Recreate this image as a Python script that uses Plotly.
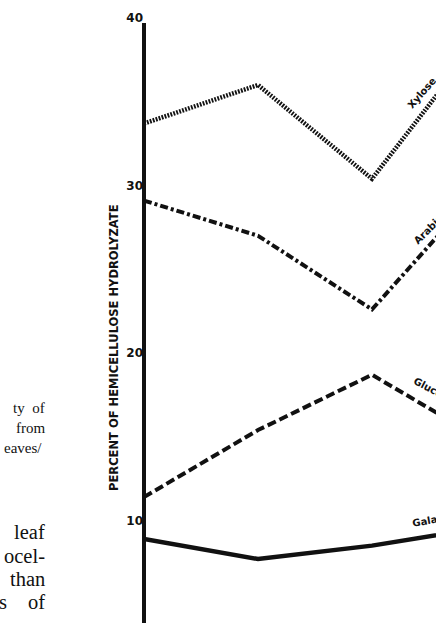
import plotly.graph_objects as go

# ---- data ----
stages = [1, 2, 3, 4]
xylose = [33.7, 36.0, 30.4, 39.2]
arabinose = [29.1, 27.0, 22.6, 30.2]
glucose = [11.4, 15.4, 18.7, 14.7]
galactose = [8.9, 7.7, 8.5, 9.6]
tick_vals = [10, 20, 30, 40]
tick_text = ["10", "20", "30", "40"]
y_title = "PERCENT OF HEMICELLULOSE HYDROLYZATE"

W, H = 436, 623
L, T = 144, 18
PX_PER_X = 114.0
PX_PER_Y = 16.75
plot_w = W - L
plot_h = H - T
x_range = [1, 1 + plot_w / PX_PER_X]
y_range = [40 - plot_h / PX_PER_Y, 40]

INK = "#111111"
fig = go.Figure()

series = [
    ("Xylose", xylose, "1.8px,1.3px", 4.5),
    ("Arabinose", arabinose, "8px,3px,3px,3px", 4),
    ("Glucose", glucose, "9px,4px", 4),
    ("Galactose", galactose, "solid", 4.5),
]
for name, vals, dash, w in series:
    fig.add_trace(go.Scatter(x=stages, y=vals, mode="lines", name=name,
                             line=dict(color=INK, width=w, dash=dash),
                             showlegend=False, hoverinfo="skip"))

def px_to_paper_x(px):
    return (px - L) / plot_w

def px_to_paper_y(py):
    return (H - py) / plot_h

# y axis line (starts slightly below the 40 label)
fig.add_shape(type="line", xref="paper", yref="paper",
              x0=0, x1=0, y0=0, y1=(39.7 - y_range[0]) / (y_range[1] - y_range[0]),
              line=dict(color=INK, width=4))

annotations = []
# axis title
annotations.append(dict(text=y_title, xref="paper", yref="paper",
                        x=px_to_paper_x(114), y=px_to_paper_y(348),
                        xanchor="center", yanchor="middle", textangle=-90,
                        showarrow=False,
                        font=dict(family="DejaVu Sans", size=11.5, color=INK, weight="bold")))

# curve labels (partly cut by the page edge, as in the reference)
label_font = dict(family="DejaVu Sans", size=10, color=INK, weight="bold")
curve_labels = [
    ("Xylose", 421, 93, -49),
    ("Arabinose", 435, 222, -45),
    ("Glucose", 434, 390, 28),
    ("Galactose", 440, 518, -10),
]
for txt, px, py, ang in curve_labels:
    annotations.append(dict(text=txt, xref="paper", yref="paper",
                            x=px_to_paper_x(px), y=px_to_paper_y(py),
                            xanchor="center", yanchor="middle", textangle=ang,
                            showarrow=False, font=label_font))

# fragments of the surrounding page text (left column)
cap_font = dict(family="Liberation Serif", size=15, color=INK)
body_font = dict(family="Liberation Serif", size=20.5, color=INK)
page_text = [
    ("ty  of", 47, 408, cap_font),
    ("from", 47, 428, cap_font),
    ("eaves/", 44, 448, cap_font),
    ("leaf", 47, 532, body_font),
    ("ocel-", 47, 556, body_font),
    ("than", 47, 579, body_font),
    ("of", 47, 602, body_font),
    ("s", 9, 602, body_font),
]
for txt, px, py, f in page_text:
    annotations.append(dict(text=txt, xref="paper", yref="paper",
                            x=px_to_paper_x(px), y=px_to_paper_y(py),
                            xanchor="right", yanchor="middle",
                            showarrow=False, font=f))

fig.update_layout(
    width=W, height=H,
    margin=dict(l=L, r=0, t=T, b=0, pad=0),
    paper_bgcolor="white", plot_bgcolor="white",
    annotations=annotations,
    xaxis=dict(range=x_range, visible=False, showgrid=False, zeroline=False),
    yaxis=dict(range=y_range, showgrid=False, zeroline=False, showline=False,
               tickmode="array", tickvals=tick_vals, ticktext=tick_text,
               ticks="", ticklabelstandoff=0,
               tickfont=dict(family="DejaVu Sans", size=12, color=INK, weight="bold")),
)

fig.write_html("out.html")
